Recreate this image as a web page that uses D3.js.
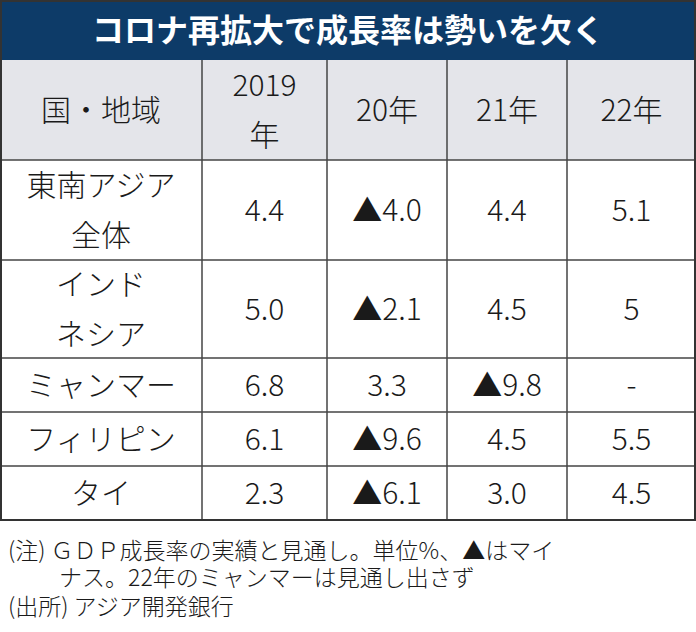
<!DOCTYPE html>
<html><head><meta charset="utf-8">
<script src="https://cdn.jsdelivr.net/npm/d3@7"></script>
<style>body{margin:0;background:#fff}</style>
</head><body>
<div class="canvas"></div>
<script>
/* data */
var title = "コロナ再拡大で成長率は勢いを欠く";
var headers = [["国・地域"], ["2019", "年"], ["20年"], ["21年"], ["22年"]];
var regions = [["東南アジア", "全体"], ["インド", "ネシア"], ["ミャンマー"], ["フィリピン"], ["タイ"]];
var y2019 = ["4.4", "5.0", "6.8", "6.1", "2.3"];
var y2020 = ["▲4.0", "▲2.1", "3.3", "▲9.6", "▲6.1"];
var y2021 = ["4.4", "4.5", "▲9.8", "4.5", "3.0"];
var y2022 = ["5.1", "5", "-", "5.5", "4.5"];
var notes = ["(注) ＧＤＰ成長率の実績と見通し。単位%、▲はマイ", "　　 ナス。22年のミャンマーは見通し出さず", "(出所) アジア開発銀行"];

var W = 696, H = 632;
var font = "'Noto Sans CJK JP', sans-serif";
var colX = [0, 202, 327, 447, 567, 696];
var rowY = [60, 160, 260, 358, 412, 466, 520];

var svg = d3.select('.canvas').append('svg').attr('width', W).attr('height', H)
    .style('font-family', font);

svg.append('rect').attr('width', W).attr('height', 60).attr('fill', '#0d3b68');
svg.append('text').attr('x', W / 2).attr('y', 30).attr('dy', '0.36em')
    .attr('text-anchor', 'middle').attr('fill', '#fff').attr('font-size', 32)
    .attr('font-weight', 'bold').text(title);

svg.append('rect').attr('x', 0).attr('y', rowY[0]).attr('width', W)
    .attr('height', rowY[1] - rowY[0]).attr('fill', '#e4e5ea');

var columns = [regions, y2019, y2020, y2021, y2022];

function cell(lines, c, y0, y1, size) {
    var cx = (colX[c] + colX[c + 1]) / 2, cy = (y0 + y1) / 2;
    var lh = 50;
    lines.forEach(function(t, i) {
        svg.append('text').attr('x', cx).attr('y', cy + (i - (lines.length - 1) / 2) * lh)
            .attr('dy', '0.36em').attr('text-anchor', 'middle')
            .attr('font-size', size).attr('font-weight', 300).attr('fill', '#1a1a1a').text(t);
    });
}

headers.forEach(function(h, c) { cell(h, c, rowY[0], rowY[1], 30); });
for (var r = 0; r < regions.length; r++) {
    columns.forEach(function(col, c) {
        var v = col[r];
        cell(Array.isArray(v) ? v : [v], c, rowY[r + 1], rowY[r + 2], 30);
    });
}

// grid lines
rowY.slice(1).forEach(function(y) {
    svg.append('line').attr('x1', 0).attr('x2', W).attr('y1', y).attr('y2', y)
        .attr('stroke', '#444').attr('stroke-width', 1.5);
});
colX.slice(1, -1).forEach(function(x) {
    svg.append('line').attr('x1', x).attr('x2', x).attr('y1', rowY[0]).attr('y2', rowY[6])
        .attr('stroke', '#444').attr('stroke-width', 1.5);
});
svg.append('rect').attr('x', 1).attr('y', 1).attr('width', W - 2).attr('height', rowY[6] - 1)
    .attr('fill', 'none').attr('stroke', '#333').attr('stroke-width', 2);

var noteY = [551, 578, 607];
notes.forEach(function(t, i) {
    svg.append('text').attr('x', 8).attr('y', noteY[i])
        .attr('dy', '0.36em').attr('font-size', 23).attr('font-weight', 300).attr('fill', '#1a1a1a')
        .style('white-space', 'pre').attr('xml:space', 'preserve').text(t);
});
</script>
</body></html>
